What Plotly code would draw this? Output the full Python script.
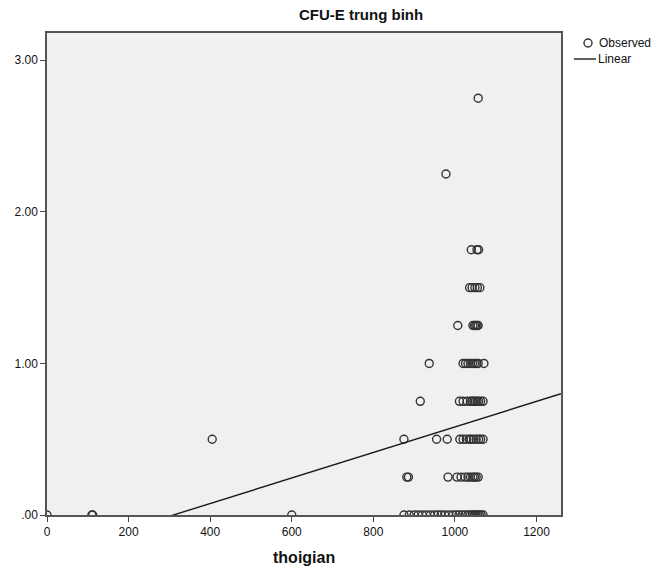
import plotly.graph_objects as go

# ---- data ----
x_y000 = [0, 110, 112, 600, 875, 888, 900, 910, 920, 930, 940, 950, 958, 966, 975, 985,
          995, 1003, 1010, 1018, 1025, 1032, 1038, 1043, 1048, 1052, 1056, 1060, 1064, 1069]
x_y025 = [882, 886, 983, 1005, 1015, 1025, 1032, 1038, 1044, 1048, 1052, 1057]
x_y050 = [405, 875, 955, 981, 1012, 1020, 1028, 1035, 1040, 1046, 1052, 1058, 1063, 1069]
x_y075 = [915, 1011, 1020, 1030, 1038, 1042, 1046, 1050, 1054, 1058, 1063, 1069]
x_y100 = [937, 1020, 1026, 1032, 1038, 1043, 1048, 1053, 1057, 1071]
x_y125 = [1007, 1044, 1048, 1051, 1054, 1057]
x_y150 = [1036, 1042, 1049, 1055, 1061]
x_y175 = [1040, 1054, 1058]
x_y225 = [978]
x_y275 = [1057]

groups = [(0.00, x_y000), (0.25, x_y025), (0.50, x_y050), (0.75, x_y075), (1.00, x_y100),
          (1.25, x_y125), (1.50, x_y150), (1.75, x_y175), (2.25, x_y225), (2.75, x_y275)]

linear_intercept = -0.261
linear_slope = 0.000842

x_ticks = [0, 200, 400, 600, 800, 1000, 1200]
y_ticks = [0, 1, 2, 3]
y_ticktext = [".00", "1.00", "2.00", "3.00"]

x_range = [0, 1260]
y_range = [0, 3.18]

title_text = "CFU-E trung binh"
x_title = "thoigian"

# ---- figure ----
obs_x, obs_y = [], []
for yv, xs in groups:
    obs_x += xs
    obs_y += [yv] * len(xs)

fig = go.Figure()
fig.add_trace(go.Scatter(
    x=obs_x, y=obs_y, mode="markers", name="Observed",
    marker=dict(symbol="circle-open", size=8, color="#333333", line=dict(width=1.4)),
    cliponaxis=True, showlegend=False))

lx = [x_range[0], x_range[1]]
ly = [linear_intercept + linear_slope * v for v in lx]
fig.add_trace(go.Scatter(x=lx, y=ly, mode="lines", name="Linear",
                         line=dict(color="#1a1a1a", width=1.4), showlegend=False))

W, H = 660, 572
L, R, T, B = 47, 561, 33, 515
pw, ph = R - L, B - T

def px(xp):
    return (xp - L) / pw

def py(yp):
    return (B - yp) / ph

font_main = "Liberation Sans, Arial, sans-serif"

fig.update_layout(
    width=W, height=H,
    margin=dict(l=L, r=W - R, t=T, b=H - B, pad=0),
    paper_bgcolor="white", plot_bgcolor="#F0F0F0",
    showlegend=False,
    font=dict(family=font_main, size=12, color="#111"),
)
fig.update_xaxes(range=x_range, tickvals=x_ticks, ticks="outside", ticklen=5, tickwidth=1,
                 tickcolor="#444", showgrid=False, zeroline=False, showline=True,
                 linecolor="#555", linewidth=1.5, mirror=True,
                 tickfont=dict(size=12, color="#111"))
fig.update_yaxes(range=y_range, tickvals=y_ticks, ticktext=y_ticktext, ticks="outside",
                 ticklen=5, tickwidth=1, tickcolor="#444", showgrid=False, zeroline=False,
                 showline=True, linecolor="#555", linewidth=1.5, mirror=True,
                 tickfont=dict(size=12, color="#111"))

# title
fig.add_annotation(text="<b>" + title_text + "</b>", xref="paper", yref="paper",
                   x=px(361), y=py(15), showarrow=False, xanchor="center", yanchor="middle",
                   font=dict(size=15, color="#111", family=font_main))
# x axis title
fig.add_annotation(text="<b>" + x_title + "</b>", xref="paper", yref="paper",
                   x=px(304), y=py(557), showarrow=False, xanchor="center", yanchor="middle",
                   font=dict(size=16, color="#111", family=font_main))

# legend (drawn manually)
fig.add_shape(type="circle", xref="paper", yref="paper", xsizemode="pixel", ysizemode="pixel",
              xanchor=px(588), yanchor=py(43), x0=-4, x1=4, y0=-4, y1=4,
              line=dict(color="#333333", width=1.4))
fig.add_annotation(text="Observed", xref="paper", yref="paper", x=px(597), y=py(43),
                   showarrow=False, xanchor="left", yanchor="middle",
                   font=dict(size=12, color="#111"))
fig.add_shape(type="line", xref="paper", yref="paper", x0=px(574), x1=px(596),
              y0=py(59), y1=py(59), line=dict(color="#1a1a1a", width=1.4))
fig.add_annotation(text="Linear", xref="paper", yref="paper", x=px(596), y=py(59),
                   showarrow=False, xanchor="left", yanchor="middle",
                   font=dict(size=12, color="#111"))

fig.write_html("out.html")
